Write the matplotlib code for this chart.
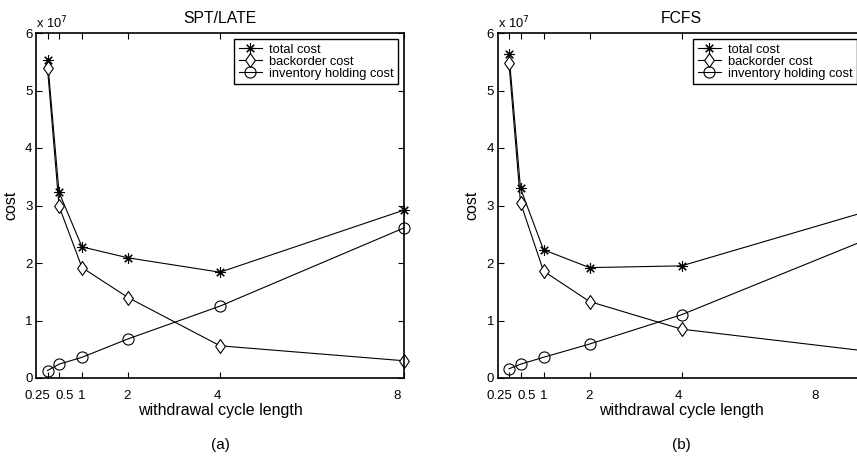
import matplotlib
matplotlib.use("Agg")
import matplotlib.pyplot as plt
import matplotlib.transforms as mtransforms
from matplotlib.path import Path

plt.rcParams['font.family'] = ['Liberation Sans', 'DejaVu Sans']

# withdrawal cycle lengths
cycle = [0.25, 0.5, 1, 2, 4, 8]
xtick_labels = ['0.25', '0.5', '1', '2', '4', '8']
yticks = [0, 1, 2, 3, 4, 5, 6]

# costs in units of 1e7
spt_total = [5.53, 3.23, 2.28, 2.09, 1.84, 2.92]
spt_backorder = [5.39, 2.99, 1.92, 1.40, 0.56, 0.30]
spt_inventory = [0.13, 0.24, 0.36, 0.68, 1.25, 2.61]

fcfs_total = [5.63, 3.30, 2.23, 1.92, 1.95, 2.89]
fcfs_backorder = [5.47, 3.05, 1.86, 1.33, 0.85, 0.47]
fcfs_inventory = [0.16, 0.24, 0.36, 0.59, 1.10, 2.40]

titles = ['SPT/LATE', 'FCFS']
captions = ['(a)', '(b)']
series_labels = ['total cost', 'backorder cost', 'inventory holding cost']

diamond = Path([(0, -1), (0.7, 0), (0, 1), (-0.7, 0), (0, -1)],
               [Path.MOVETO, Path.LINETO, Path.LINETO, Path.LINETO, Path.CLOSEPOLY])

W, H = 857, 459
fig = plt.figure(figsize=(W / 100, H / 100), dpi=100)

ax_w = 368 / W
ax_h = 345 / H
ax_b = (H - 378) / H
lefts = [36 / W, 497.5 / W]

datasets = [
    (spt_total, spt_backorder, spt_inventory),
    (fcfs_total, fcfs_backorder, fcfs_inventory),
]

for i, (tot, back, inv) in enumerate(datasets):
    ax = fig.add_axes([lefts[i], ax_b, ax_w, ax_h])
    ax.plot(cycle, tot, color='black', lw=0.8, marker=(8, 2, 0), ms=7.5,
            mew=0.8, label=series_labels[0], clip_on=False)
    ax.plot(cycle, back, color='black', lw=0.8, marker=diamond, ms=10,
            mfc='white', mew=0.8, label=series_labels[1], clip_on=False)
    ax.plot(cycle, inv, color='black', lw=0.8, marker='o', ms=8,
            mfc='none', mew=0.8, label=series_labels[2], clip_on=False)
    ax.set_xlim(0, 8)
    ax.set_ylim(0, 6)
    ax.set_xticks(cycle)
    ax.set_xticklabels(xtick_labels)
    ax.set_yticks(yticks)
    ax.tick_params(direction='in', top=True, right=True, length=4,
                   width=0.8, labelsize=9.5, colors='black')
    ax.tick_params(axis='x', pad=8.5)
    ax.tick_params(axis='y', pad=2.5)
    for sp in ax.spines.values():
        sp.set_linewidth(1.2)
        sp.set_color('black')
    # shift crowded tick labels like the original
    lbls = ax.get_xticklabels()
    shifts = [-10, 6, 0, -1, -3, -7 if i == 0 else -50]
    for lab, dx in zip(lbls, shifts):
        lab.set_transform(lab.get_transform() +
                          mtransforms.ScaledTranslation(dx / 100, 0, fig.dpi_scale_trans))
    ax.set_title(titles[i], fontsize=11.3, pad=7)
    ax.set_xlabel('withdrawal cycle length', fontsize=11.5, labelpad=1)
    ax.set_ylabel('cost', fontsize=11.5, labelpad=5)
    ax.text(0.0, 1.006, r'x 10$^{7}$', transform=ax.transAxes, fontsize=9.3,
            ha='left', va='bottom')
    ax.text(0.5, -67 / 345, captions[i], transform=ax.transAxes, fontsize=11,
            ha='center', va='center')
    if i == 0:
        anchor = (398 - lefts[0] * W) / 368
    else:
        anchor = (857 - lefts[1] * W) / 368
    leg = ax.legend(loc='upper right', bbox_to_anchor=(anchor, 1 - 6 / 345),
                    fontsize=9.3, frameon=True, fancybox=False,
                    edgecolor='black', framealpha=1, borderpad=0.35,
                    labelspacing=0.0, handlelength=1.85, handletextpad=0.5,
                    borderaxespad=0)
    leg.get_frame().set_linewidth(1.0)

fig.savefig('out.png', dpi=100)
